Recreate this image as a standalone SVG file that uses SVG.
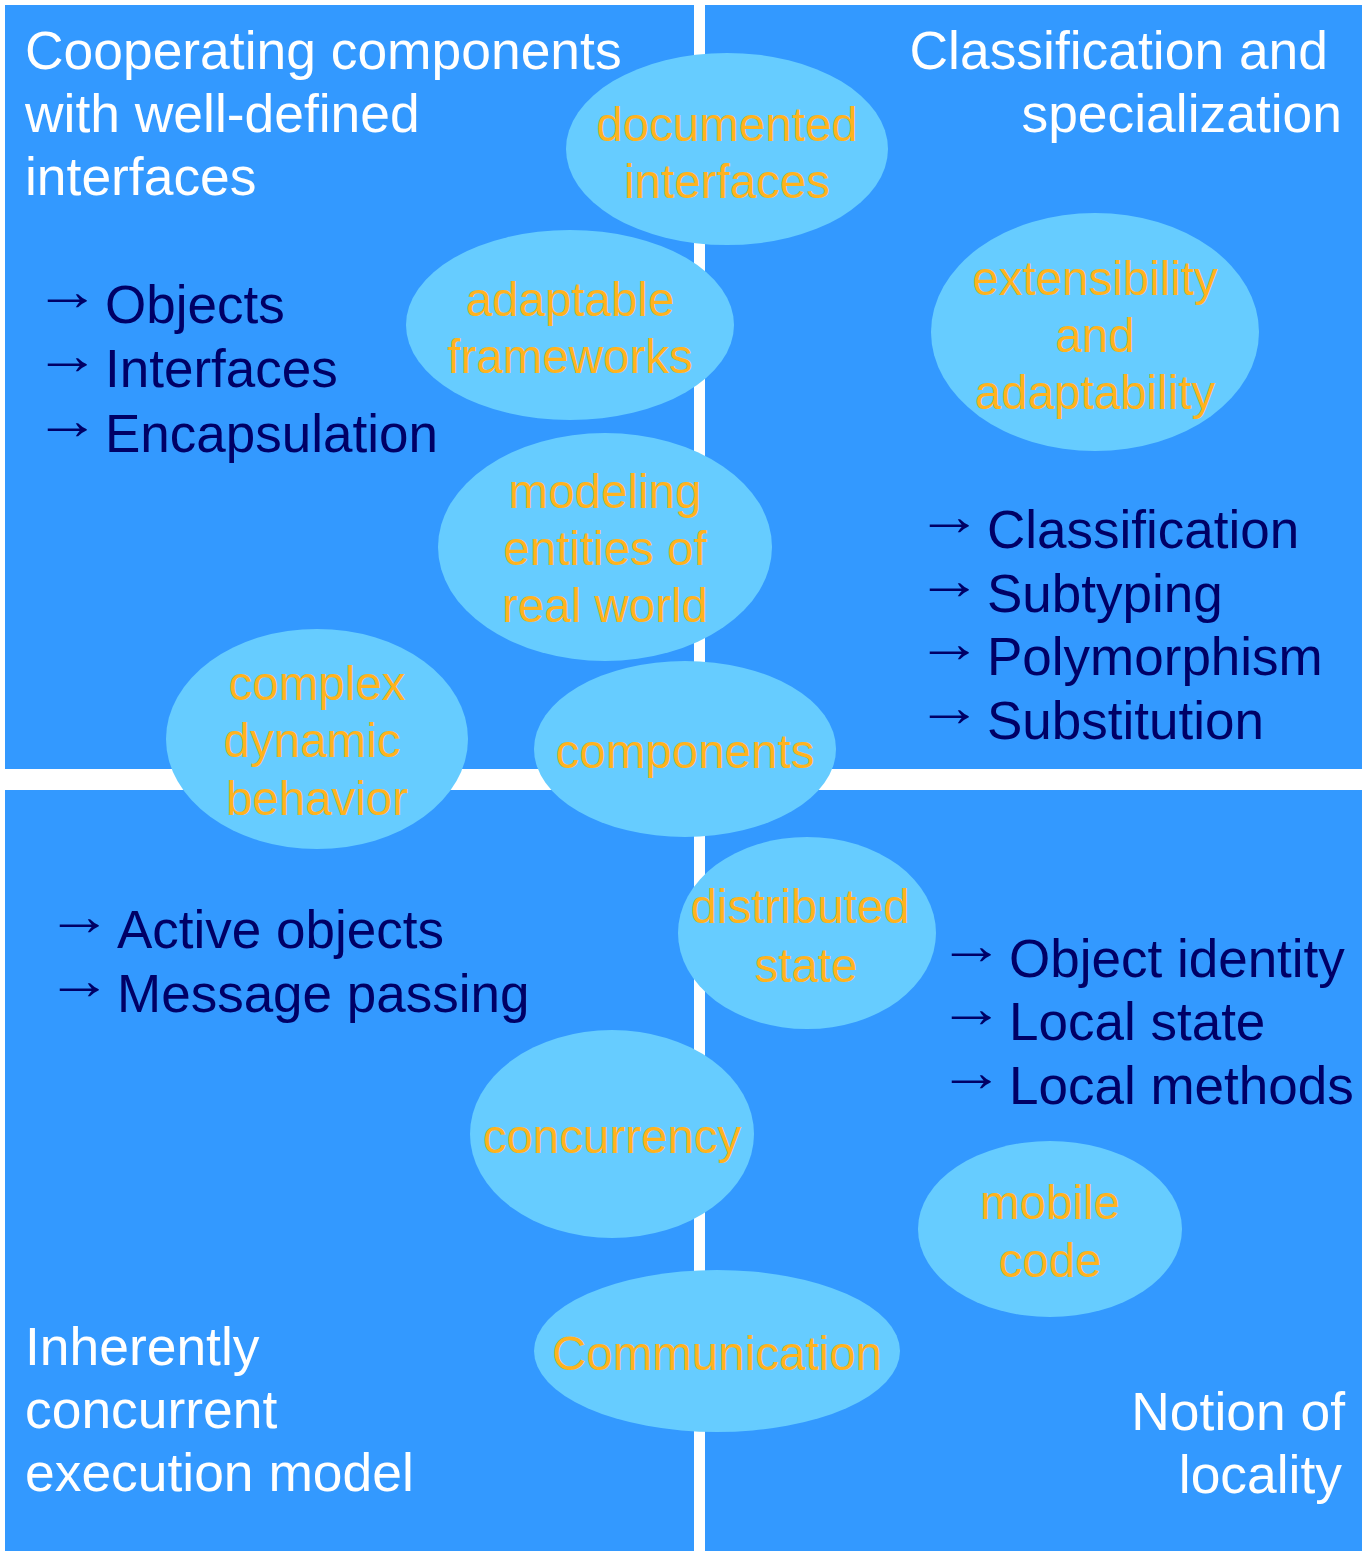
<svg xmlns="http://www.w3.org/2000/svg" width="1365" height="1553" viewBox="0 0 1365 1553">
<style>
.q{fill:#3399FF}
.e{fill:#66CCFF}
.t{font-family:"Liberation Sans",Arial,sans-serif;font-size:53.4px;fill:#FFFFFF}
.l{font-family:"Liberation Sans",Arial,sans-serif;font-size:53px;fill:#000066}
.a{font-size:56px}
.o{font-family:"Liberation Sans",Arial,sans-serif;font-size:47.5px;fill:#FFB31E;text-anchor:middle}
.r{text-anchor:end}
</style>
<rect width="1365" height="1553" fill="#FFFFFF"/>
<g id="quadrant-tl">
<rect class="q" x="5" y="5" width="689" height="764"/>
<text class="t"><tspan x="25" y="69">Cooperating components</tspan><tspan x="25" y="132">with well-defined</tspan><tspan x="25" y="195">interfaces</tspan></text>
<text class="l"><tspan class="a" x="34" y="310" textLength="66" lengthAdjust="spacingAndGlyphs">→</tspan><tspan x="105" y="323">Objects</tspan></text>
<text class="l"><tspan class="a" x="34" y="374" textLength="66" lengthAdjust="spacingAndGlyphs">→</tspan><tspan x="105" y="387">Interfaces</tspan></text>
<text class="l"><tspan class="a" x="34" y="439" textLength="66" lengthAdjust="spacingAndGlyphs">→</tspan><tspan x="105" y="452">Encapsulation</tspan></text>
</g>
<g id="quadrant-tr">
<rect class="q" x="705" y="5" width="657" height="764"/>
<text class="t r"><tspan x="1328" y="69">Classification and</tspan><tspan x="1342" y="132">specialization</tspan></text>
<text class="l"><tspan class="a" x="916" y="535" textLength="66" lengthAdjust="spacingAndGlyphs">→</tspan><tspan x="987" y="548">Classification</tspan></text>
<text class="l"><tspan class="a" x="916" y="599" textLength="66" lengthAdjust="spacingAndGlyphs">→</tspan><tspan x="987" y="612">Subtyping</tspan></text>
<text class="l"><tspan class="a" x="916" y="662" textLength="66" lengthAdjust="spacingAndGlyphs">→</tspan><tspan x="987" y="675">Polymorphism</tspan></text>
<text class="l"><tspan class="a" x="916" y="726" textLength="66" lengthAdjust="spacingAndGlyphs">→</tspan><tspan x="987" y="739">Substitution</tspan></text>
</g>
<g id="quadrant-bl">
<rect class="q" x="5" y="790" width="689" height="761"/>
<text class="l"><tspan class="a" x="46" y="935" textLength="66" lengthAdjust="spacingAndGlyphs">→</tspan><tspan x="117" y="948">Active objects</tspan></text>
<text class="l"><tspan class="a" x="46" y="999" textLength="66" lengthAdjust="spacingAndGlyphs">→</tspan><tspan x="117" y="1012">Message passing</tspan></text>
<text class="t"><tspan x="25" y="1365">Inherently</tspan><tspan x="25" y="1428">concurrent</tspan><tspan x="25" y="1491">execution model</tspan></text>
</g>
<g id="quadrant-br">
<rect class="q" x="705" y="790" width="657" height="761"/>
<text class="l"><tspan class="a" x="938" y="964" textLength="66" lengthAdjust="spacingAndGlyphs">→</tspan><tspan x="1009" y="977">Object identity</tspan></text>
<text class="l"><tspan class="a" x="938" y="1027" textLength="66" lengthAdjust="spacingAndGlyphs">→</tspan><tspan x="1009" y="1040">Local state</tspan></text>
<text class="l"><tspan class="a" x="938" y="1091" textLength="66" lengthAdjust="spacingAndGlyphs">→</tspan><tspan x="1009" y="1104">Local methods</tspan></text>
<text class="t r"><tspan x="1345" y="1430">Notion of</tspan><tspan x="1342" y="1493">locality</tspan></text>
</g>
<g id="node-documented-interfaces">
<ellipse class="e" cx="727" cy="149" rx="161" ry="96"/>
<text class="o"><tspan x="727" y="141">documented</tspan><tspan x="727" y="198">interfaces</tspan></text>
</g>
<g id="node-adaptable-frameworks">
<ellipse class="e" cx="570" cy="325" rx="164" ry="95"/>
<text class="o"><tspan x="570" y="316">adaptable</tspan><tspan x="570" y="373">frameworks</tspan></text>
</g>
<g id="node-extensibility">
<ellipse class="e" cx="1095" cy="332" rx="164" ry="119"/>
<text class="o"><tspan x="1095" y="295">extensibility</tspan><tspan x="1095" y="352">and</tspan><tspan x="1095" y="409">adaptability</tspan></text>
</g>
<g id="node-modeling">
<ellipse class="e" cx="605" cy="547" rx="167" ry="114"/>
<text class="o"><tspan x="605" y="508">modeling</tspan><tspan x="605" y="565">entities of</tspan><tspan x="605" y="622">real world</tspan></text>
</g>
<g id="node-complex-dynamic">
<ellipse class="e" cx="317" cy="739" rx="151" ry="110"/>
<text class="o"><tspan x="317" y="700">complex</tspan><tspan x="312" y="757">dynamic</tspan><tspan x="317" y="815">behavior</tspan></text>
</g>
<g id="node-components">
<ellipse class="e" cx="685" cy="749" rx="151" ry="88"/>
<text class="o"><tspan x="685" y="768">components</tspan></text>
</g>
<g id="node-distributed-state">
<ellipse class="e" cx="807" cy="933" rx="129" ry="96"/>
<text class="o"><tspan x="800" y="923">distributed</tspan><tspan x="806" y="982">state</tspan></text>
</g>
<g id="node-concurrency">
<ellipse class="e" cx="612" cy="1134" rx="142" ry="104"/>
<text class="o"><tspan x="612" y="1153">concurrency</tspan></text>
</g>
<g id="node-mobile-code">
<ellipse class="e" cx="1050" cy="1229" rx="132" ry="88"/>
<text class="o"><tspan x="1050" y="1219">mobile</tspan><tspan x="1050" y="1277">code</tspan></text>
</g>
<g id="node-communication">
<ellipse class="e" cx="717" cy="1351" rx="183" ry="81"/>
<text class="o"><tspan x="717" y="1370">Communication</tspan></text>
</g>
</svg>
